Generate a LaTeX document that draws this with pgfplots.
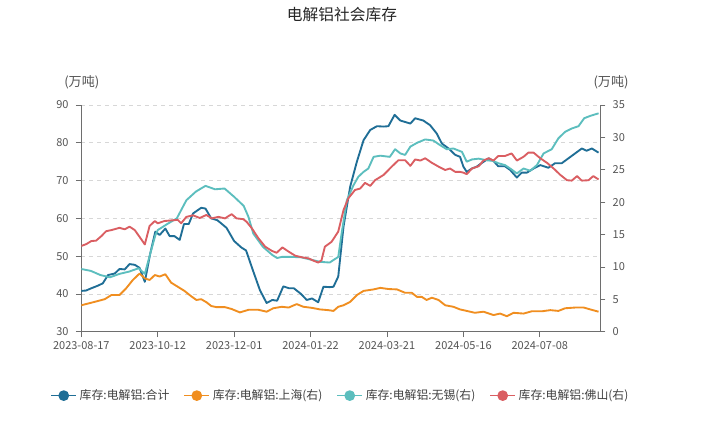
\documentclass[border=0pt]{standalone}
\usepackage{fontspec}
\setmainfont{Noto Sans CJK SC}
\usepackage{pgfplots}
\pgfplotsset{compat=1.18}

\definecolor{cBlue}{RGB}{31,110,150}
\definecolor{cOrange}{RGB}{240,142,32}
\definecolor{cCyan}{RGB}{92,190,190}
\definecolor{cRed}{RGB}{218,94,98}
\definecolor{cAxis}{RGB}{110,110,110}
\definecolor{cText}{RGB}{85,85,85}
\definecolor{cGrid}{RGB}{215,215,215}

\pgfplotsset{
  base/.style={
    width=389pt, height=170pt, scale only axis,
    xmin=0, xmax=108.6,
    tick label style={font=\fontsize{8.25}{9}\selectfont, text=cText},
    /pgf/number format/assume math mode=true,
    axis line style={cAxis, line width=0.6pt},
    tick style={cAxis, line width=0.6pt},
    major tick length=4pt,
    tick align=outside,
    every axis plot/.append style={line width=1.4pt, line join=round, mark=none},
  },
  legimg/.style={legend image code/.code={
    \draw[line width=1.3pt] (0pt,0pt) -- (18.75pt,0pt);
    \fill (9.4pt,0pt) circle (3.3pt);}},
}

\begin{document}
\begin{tikzpicture}
\begin{scope}[x=0.75pt,y=0.75pt]
  \fill[white, use as bounding box] (-81.3,-89.3) rectangle (623.7,331.7);
\end{scope}

\begin{axis}[base,
  axis x line*=bottom, axis y line*=left,
  ymin=30, ymax=90, ytick={30,40,...,90},
  yticklabel style={xshift=-2pt},
  xtick={0,16,...,96},
  xticklabels={2023-08-17,2023-10-12,2023-12-01,2024-01-22,2024-03-21,2024-05-16,2024-07-08},
  ymajorgrids, grid style={cGrid, dash pattern=on 3pt off 3pt, line width=0.6pt},
]
% 库存:电解铝:合计
\addplot[cBlue] coordinates {
(0,40.8)(1,40.9)(2.1,41.5)(3.5,42.2)(4.5,42.8)(5.6,45.0)(7,45.4)(8,46.6)(9.1,46.5)(10.1,47.9)
(11.2,47.7)(12.2,46.9)(13.3,43.2)(14.4,50.5)(15.5,56.5)(16.4,55.6)(17.6,57.3)(18.5,55.3)(19.5,55.3)
(20.6,54.3)(21.5,58.5)(22.5,58.5)(23.4,61.3)(25.1,62.8)(26,62.6)(27.2,60)(28.5,59.5)(30.4,57.5)
(32,54)(33.5,52.3)(34.5,51.5)(36,46)(37.4,41)(38.8,37.6)(40,38.4)(41,38.2)(42.3,42)(43.5,41.5)
(44.5,41.5)(46,40)(47.2,38.4)(48.3,38.8)(49.6,37.8)(50.7,41.9)(52,41.8)(52.8,41.9)(53.8,44.6)
(54.9,57.8)(56.3,68.4)(57.7,75.0)(59.1,80.7)(60.5,83.4)(61.9,84.4)(63.3,84.3)(64.3,84.4)(65.6,87.4)
(66.8,85.9)(68.9,85.1)(69.9,86.5)(71.6,85.9)(73,84.7)(74.4,82.5)(75.5,79.8)(76.9,78.5)(78.3,76.8)
(79.3,76.3)(80,73.7)(80.7,72.3)(81.8,73.2)(82.8,73.7)(83.9,74.7)(85.3,75.9)(86.3,75.2)(87.3,73.8)
(88.7,73.8)(89.8,72.8)(91.2,70.8)(92.2,72.1)(93.3,72.1)(94.7,73.2)(96.1,74.1)(97.8,73.4)(99.2,74.6)
(100.6,74.6)(102,75.9)(103.4,77.2)(104.8,78.5)(105.8,77.9)(106.9,78.5)(108.3,77.4)
};
\end{axis}

\begin{axis}[base,
  axis y line*=right, axis x line=none,
  ymin=0, ymax=35, ytick={0,5,...,35},
  yticklabel style={xshift=2pt},
  legend columns=4,
  legend style={at={(0.5,-0.282)}, anchor=center, draw=none, fill=none,
    font=\fontsize{8.9}{10}\selectfont, text=black!75,
    /tikz/every even column/.append style={column sep=8.5pt},
    nodes={inner sep=2pt}},
]
\addlegendimage{cBlue, line width=1.4pt, legimg}
\addlegendentry{库存:电解铝:合计}
% 库存:电解铝:上海(右)
\addplot[cOrange, legimg] coordinates {
(0,4.08)(2.8,4.61)(4.9,5.02)(6.3,5.66)(8,5.66)(9.4,6.71)(10.8,7.99)(12.2,8.98)(13.3,8.23)(14.3,7.99)
(15.4,8.75)(16.4,8.52)(17.6,8.87)(18.8,7.58)(20.2,6.94)(21.6,6.30)(23,5.48)(24.1,4.90)(25.1,5.02)
(26.2,4.55)(27.2,3.97)(28.3,3.79)(30.1,3.79)(31.5,3.5)(33.2,2.98)(35,3.38)(37.1,3.38)(38.8,3.09)
(40.2,3.62)(42,3.85)(43.4,3.73)(45.1,4.26)(46.5,3.85)(48.3,3.68)(50,3.44)(51.7,3.33)(52.8,3.21)
(53.8,3.85)(54.9,4.08)(56.3,4.61)(57.7,5.66)(59.1,6.30)(61.2,6.53)(62.6,6.77)(64.3,6.59)(66.1,6.53)
(67.8,6.01)(69.2,6.01)(70.3,5.37)(71.3,5.37)(72.3,4.90)(73.4,5.25)(74.8,4.90)(76.2,4.08)(77.9,3.85)
(79.3,3.44)(80.7,3.21)(82.4,2.92)(84.2,3.09)(86.3,2.57)(87.7,2.8)(89.1,2.39)(90.5,2.92)(92.6,2.8)
(94.3,3.15)(96.4,3.15)(98.2,3.33)(99.9,3.21)(101.3,3.62)(103.4,3.73)(105.2,3.73)(107.1,3.33)(108.3,3.09)
};
\addlegendentry{库存:电解铝:上海(右)}
% 库存:电解铝:无锡(右)
\addplot[cCyan, legimg] coordinates {
(0,9.68)(2,9.39)(4,8.75)(6,8.40)(8,8.93)(10,9.28)(12,9.80)(13.3,8.93)(14.4,11.96)(15.5,14.88)
(16,15.69)(18,16.63)(20,17.5)(22,20.3)(24,21.64)(26,22.52)(28,21.99)(30,22.11)(32,20.83)(34,19.43)
(35,17.73)(36,15.17)(38,13.13)(40,11.84)(41,11.38)(42,11.55)(44,11.55)(46,11.49)(48,11.14)(50,10.79)
(52,10.68)(53.8,11.55)(54.5,15.17)(55.6,20.3)(57,22.63)(58,23.92)(59.1,24.68)(60.1,25.2)(61.2,27.0)
(62.6,27.18)(64.6,27.0)(65.7,28.18)(66.8,27.53)(67.8,27.3)(68.9,28.58)(70.3,29.17)(72,29.69)
(73.7,29.52)(75.1,28.82)(76.5,28.18)(77.9,28.29)(79.7,27.77)(80.7,26.25)(81.8,26.6)(83.2,26.72)
(84.8,26.48)(86.2,26.37)(87.3,26.02)(88.7,25.73)(89.8,25.2)(91.2,24.44)(92.6,25.2)(94,24.85)
(95.4,25.73)(96.8,27.53)(98.5,28.18)(99.9,29.87)(101.3,30.86)(102.7,31.38)(104.1,31.73)(105.3,32.96)
(106.5,33.31)(108.3,33.72)
};
\addlegendentry{库存:电解铝:无锡(右)}
% 库存:电解铝:佛山(右)
\addplot[cRed, legimg] coordinates {
(0,13.24)(1.05,13.53)(2.1,14.0)(3.1,14.06)(4.2,14.76)(5.2,15.52)(6.3,15.69)(8,16.04)(9.1,15.81)
(10.1,16.22)(11.2,15.69)(12.2,14.64)(13.3,13.48)(14.3,16.33)(15.4,17.09)(16,16.74)(17.4,17.09)
(19.2,17.21)(20.2,17.27)(20.9,16.74)(22,17.73)(23.4,17.97)(24.8,17.56)(26.2,18.03)(27.3,17.5)
(28.7,17.73)(30.1,17.5)(30.8,17.85)(31.5,18.14)(32.5,17.5)(33.9,17.38)(34.6,16.98)(35.7,15.98)
(37.1,14.41)(38.5,13.13)(39.9,12.48)(40.9,12.19)(42.1,13.01)(43.4,12.37)(44.8,11.73)(46.2,11.49)
(47.6,11.32)(48.6,10.97)(49.6,10.68)(50.3,11.03)(51,13.13)(52.4,13.88)(53.8,15.46)(54.9,18.78)
(55.9,20.59)(57.3,21.88)(58.4,22.11)(59.4,22.98)(60.5,22.52)(61.5,23.39)(63.3,24.21)(65,25.49)
(66.4,26.48)(67.8,26.48)(68.9,25.61)(69.9,26.6)(71,26.43)(72,26.78)(73.4,26.08)(74.8,25.49)
(76.2,24.97)(77.2,25.2)(78.3,24.68)(79.3,24.68)(80,24.56)(80.7,24.33)(81.8,25.2)(83.2,25.55)
(84.2,26.43)(85.3,26.78)(86.3,26.43)(87.3,27.13)(88.7,27.13)(90.1,27.53)(91.2,26.43)(92.6,27.01)
(93.6,27.65)(94.7,27.65)(96.1,26.78)(97.5,26.08)(98.9,25.2)(100.3,24.21)(101.7,23.39)(102.7,23.33)
(103.8,24.03)(104.8,23.33)(106.2,23.39)(107.2,24.03)(108.3,23.51)
};
\addlegendentry{库存:电解铝:佛山(右)}
\end{axis}

\begin{scope}[x=0.75pt,y=0.75pt]
  \node[font=\fontsize{11.8}{13}\selectfont, text=black!85] at (260.7,316.7) {电解铝社会库存};
  \node[font=\fontsize{9.8}{11}\selectfont, text=cText] at (0.5,249.7) {(万吨)};
  \node[font=\fontsize{9.8}{11}\selectfont, text=cText] at (529.7,249.7) {(万吨)};
\end{scope}
\end{tikzpicture}
\end{document}
